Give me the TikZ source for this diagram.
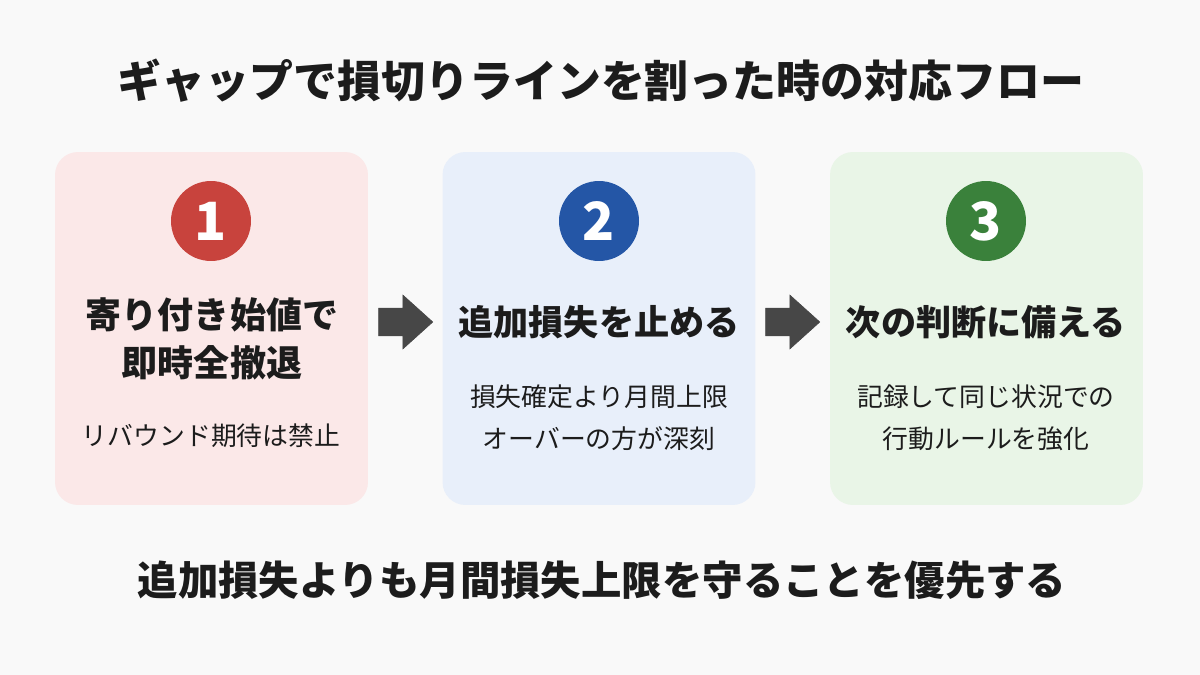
\documentclass[tikz,border=0pt]{standalone}
\usepackage{fontspec}
\setmainfont{Noto Sans CJK JP}
\usepackage{tikz}
\usetikzlibrary{arrows.meta,positioning,shapes.arrows}

\definecolor{bgcol}{HTML}{F9F9F9}
\definecolor{txtcol}{HTML}{1C1C1C}
\definecolor{redfill}{HTML}{FBE8E8}
\definecolor{bluefill}{HTML}{E8EFFA}
\definecolor{greenfill}{HTML}{E9F5E7}
\definecolor{redcirc}{HTML}{C8433D}
\definecolor{bluecirc}{HTML}{2456A6}
\definecolor{greencirc}{HTML}{3A813B}
\definecolor{arrcol}{HTML}{474747}

\begin{document}
\begin{tikzpicture}[
    x=0.02cm, y=-0.02cm,
    card/.style={rounded corners=13pt, minimum width=6.26cm, minimum height=7.06cm, inner sep=0pt},
    num/.style={circle, minimum size=1.6cm, inner sep=0pt, text=white,
                font=\fontsize{30}{30}\selectfont\bfseries},
    head/.style={align=center, text=txtcol, font=\fontsize{20.5}{27}\selectfont\bfseries},
    sub/.style={align=center, text=txtcol, font=\fontsize{14.7}{24}\selectfont},
    blockarr/.style={single arrow, fill=arrcol, draw=arrcol, inner xsep=0pt, inner ysep=0.27cm,
                minimum height=1.08cm,
                single arrow head extend=0.26cm, single arrow tip angle=84},
]
% canvas
\fill[bgcol] (0,0) rectangle (1200,675);
\useasboundingbox (0,0) rectangle (1200,675);

% Title
\node[text=txtcol, font=\fontsize{25}{25}\selectfont\bfseries] (title) at (601,81)
    {ギャップで損切りラインを割った時の対応フロー};

% Step cards
\node[card, fill=redfill] (card1) at (211.5,328.5) {};
\node[card, fill=bluefill] (card2) at (599,328.5) {};
\node[card, fill=greenfill] (card3) at (986.5,328.5) {};

% Step numbers
\node[num, fill=redcirc] (n1) at (211,221) {1};
\node[num, fill=bluecirc] (n2) at (599,221) {2};
\node[num, fill=greencirc] (n3) at (986,221) {3};

% Step 1
\node[head] (h1) at (212,339) {寄り付き始値で\\即時全撤退};
\node[sub] (s1) at (211,436) {リバウンド期待は禁止};

% Step 2
\node[head, font=\fontsize{20}{27}\selectfont\bfseries] (h2) at (599,322) {追加損失を止める};
\node[sub] (s2) at (599,418) {損失確定より月間上限\\オーバーの方が深刻};

% Step 3
\node[head, font=\fontsize{20}{27}\selectfont\bfseries] (h3) at (986,322) {次の判断に備える};
\node[sub] (s3) at (986,418) {記録して同じ状況での\\行動ルールを強化};

% Arrows between cards
\node[blockarr] (a1) at (398,322) {};
\node[blockarr] (a2) at (785,322) {};

% Bottom message
\node[text=txtcol, font=\fontsize{23}{23}\selectfont\bfseries] (msg) at (602,580)
    {追加損失よりも月間損失上限を守ることを優先する};
\end{tikzpicture}
\end{document}
